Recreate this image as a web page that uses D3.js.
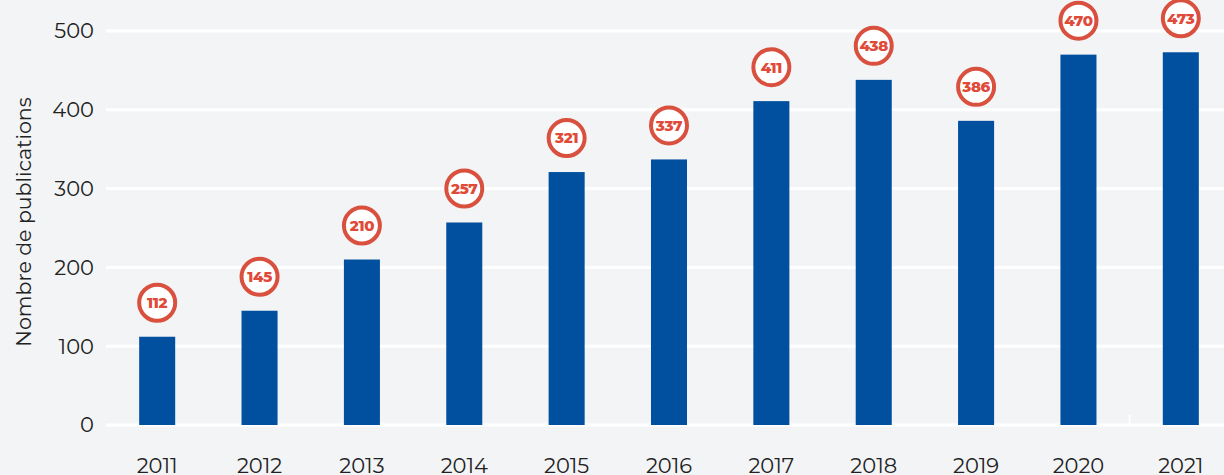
<!DOCTYPE html>
<html><head><meta charset="utf-8">
<script src="https://cdn.jsdelivr.net/npm/d3@7"></script>
<style>
html,body{margin:0;padding:0;background:#f3f4f6;}
svg{display:block;}
</style></head>
<body>
<svg id="chart" width="1224" height="475"></svg>
<script>
const years = ["2011","2012","2013","2014","2015","2016","2017","2018","2019","2020","2021"];
const publications = [112,145,210,257,321,337,411,438,386,470,473];
const yTicks = [0,100,200,300,400,500];
const yLabel = "Nombre de publications";

const svg = d3.select("#chart");
const W = 1224, H = 475;
const font = "Montserrat, 'Open Sans', sans-serif";
svg.append("rect").attr("width",W).attr("height",H).attr("fill","#f3f4f6");

const x = d3.scaleBand().domain(years).range([106,1232]).paddingInner(0.648).paddingOuter(0.324);
const y = d3.scaleLinear().domain([0,500]).range([425,31]);

// grid
svg.append("g").selectAll("line").data(yTicks).join("line")
  .attr("x1",106).attr("x2",W).attr("y1",d=>y(d)).attr("y2",d=>y(d))
  .attr("stroke","#ffffff").attr("stroke-width",3);

// y tick labels
svg.append("g").selectAll("text").data(yTicks).join("text")
  .attr("x",94).attr("y",d=>y(d)).attr("dy","0.35em").attr("text-anchor","end")
  .attr("font-family",font).attr("font-size",21).attr("fill","#222")
  .text(d=>d);

// y axis label
svg.append("text").attr("transform","translate(31,222) rotate(-90)")
  .attr("text-anchor","middle").attr("font-family",font)
  .attr("font-size",20.5).attr("fill","#222").text(yLabel);

// small tick
const tx = x("2021") - x.step()*x.paddingInner()/2;
svg.append("line").attr("x1",tx).attr("x2",tx).attr("y1",415).attr("y2",425)
  .attr("stroke","#ffffff").attr("stroke-width",2);

// bars
svg.append("g").selectAll("rect").data(publications).join("rect")
  .attr("x",(d,i)=>x(years[i])).attr("width",x.bandwidth())
  .attr("y",d=>y(d)).attr("height",d=>y(0)-y(d)).attr("fill","#00509f");

// x labels
svg.append("g").selectAll("text").data(years).join("text")
  .attr("x",d=>x(d)+x.bandwidth()/2).attr("y",473).attr("text-anchor","middle")
  .attr("font-family",font).attr("font-size",21).attr("fill","#222")
  .text(d=>d);

// value badges
const badges = svg.append("g").selectAll("g").data(publications).join("g")
  .attr("transform",(d,i)=>`translate(${x(years[i])+x.bandwidth()/2},${y(d)-34})`);
badges.append("circle").attr("r",18).attr("fill","#ffffff").attr("stroke","#d9503f").attr("stroke-width",4);
badges.append("text").attr("text-anchor","middle").attr("dy","0.36em")
  .attr("font-family",font).attr("font-weight",800)
  .attr("font-size",15).attr("fill","#e04a38").attr("letter-spacing","-0.3")
  .text(d=>d);
</script>
</body></html>
